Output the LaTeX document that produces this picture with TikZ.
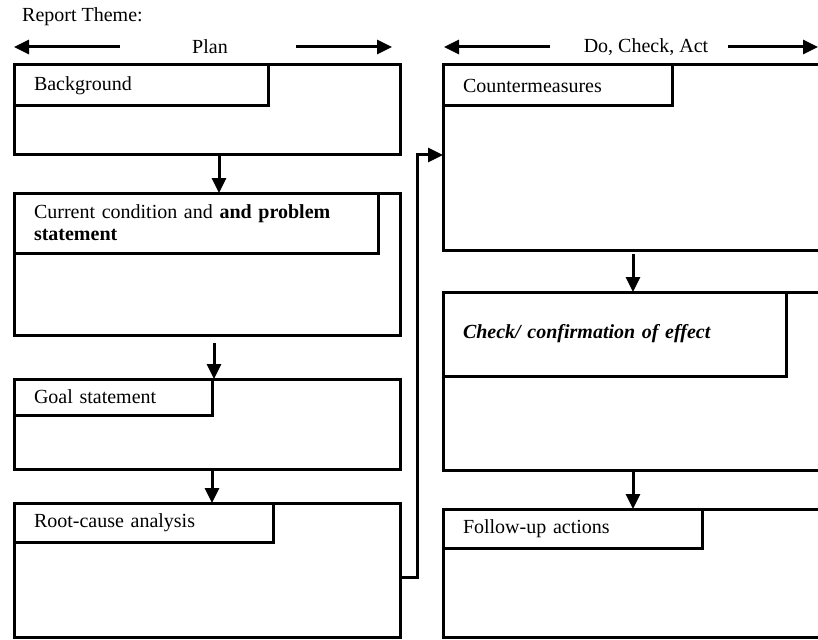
\documentclass[tikz,border=0pt]{standalone}
\usepackage{fontspec}
\setmainfont{Liberation Serif}
\usetikzlibrary{arrows.meta,calc}
\begin{document}
\begin{tikzpicture}[x=1pt,y=-1pt,
  font=\fontsize{20}{22}\selectfont,
  box/.style 2 args={draw,line width=3pt,minimum width=#1,minimum height=#2,anchor=north west,inner sep=0pt,outer sep=0pt},
  hdr/.style 2 args={draw,line width=3pt,text width=#1,minimum height=#2,align=left,anchor=north west,inner xsep=20pt,inner ysep=0pt,outer sep=0pt},
  arr/.style={line width=3pt,-{Triangle[length=15pt,width=14pt]}},
  conn/.style={line width=3pt,-{Triangle[length=15pt,width=14pt]}}
]
\useasboundingbox (0,0) rectangle (818,639);
\fill[white] (0,0) rectangle (818,639);
\clip (0,0) rectangle (818,639);

% title row
\node[anchor=west,inner sep=0pt] (theme) at (22,17) {Report Theme:};
\node[inner sep=0pt] (plan) at (210,47) {Plan};
\node[inner sep=0pt] (dca) at (646,47) {Do, Check, Act};
\coordinate (pl1) at (120,47); \coordinate (pl0) at (14,47);
\coordinate (pr1) at (296,47); \coordinate (pr0) at (392,47);
\coordinate (dl1) at (550,47); \coordinate (dl0) at (444,47);
\coordinate (dr1) at (728,47); \coordinate (dr0) at (818,47);
\draw[arr] (pl1) -- (pl0);
\draw[arr] (pr1) -- (pr0);
\draw[arr] (dl1) -- (dl0);
\draw[arr] (dr1) -- (dr0);

% left column
\node[box={386pt}{90pt}] (b1) at (14,65) {};
\node[hdr={214pt}{41pt}] (h1) at (14,65) {Background};
\node[box={386pt}{142pt}] (b2) at (14,193) {};
\node[hdr={324pt}{60pt}] (h2) at (14,193) {Current condition and \textbf{and problem}\\\textbf{statement}};
\node[box={386pt}{90pt}] (b3) at (14,379) {};
\node[hdr={158pt}{36pt}] (h3) at (14,379) {Goal statement};
\node[box={386pt}{134pt}] (b4) at (14,503) {};
\node[hdr={219pt}{39pt}] (h4) at (14,503) {Root-cause analysis};

% right column
\node[box={390pt}{185pt}] (b5) at (443,65) {};
\node[hdr={189pt}{41pt}] (h5) at (443,65) {Countermeasures};
\node[box={390pt}{178pt}] (b6) at (443,292) {};
\node[hdr={303pt}{84pt}] (h6) at (443,292) {\textbf{\textit{Check/ confirmation of effect}}};
\node[box={390pt}{128pt}] (b7) at (443,509) {};
\node[hdr={219pt}{39pt}] (h7) at (443,509) {Follow-up actions};

% arrows
\draw[arr] ($(b1.south west)+(205,0)$) -- ($(b2.north west)+(205,0)$);
\draw[arr] ($(b2.south west)+(200,8)$) -- ($(b3.north west)+(200,0)$);
\draw[arr] ($(b3.south west)+(198,0)$) -- ($(b4.north west)+(198,0)$);
\draw[arr] ($(b5.south west)+(190,4)$) -- ($(b6.north west)+(190,0)$);
\draw[arr] ($(b6.south west)+(190,2)$) -- ($(b7.north west)+(190,0)$);
\draw[conn] ($(b4.north east)+(0,74)$) -- ++(17,0) |- ($(b5.north west)+(0,90)$);
\end{tikzpicture}
\end{document}
